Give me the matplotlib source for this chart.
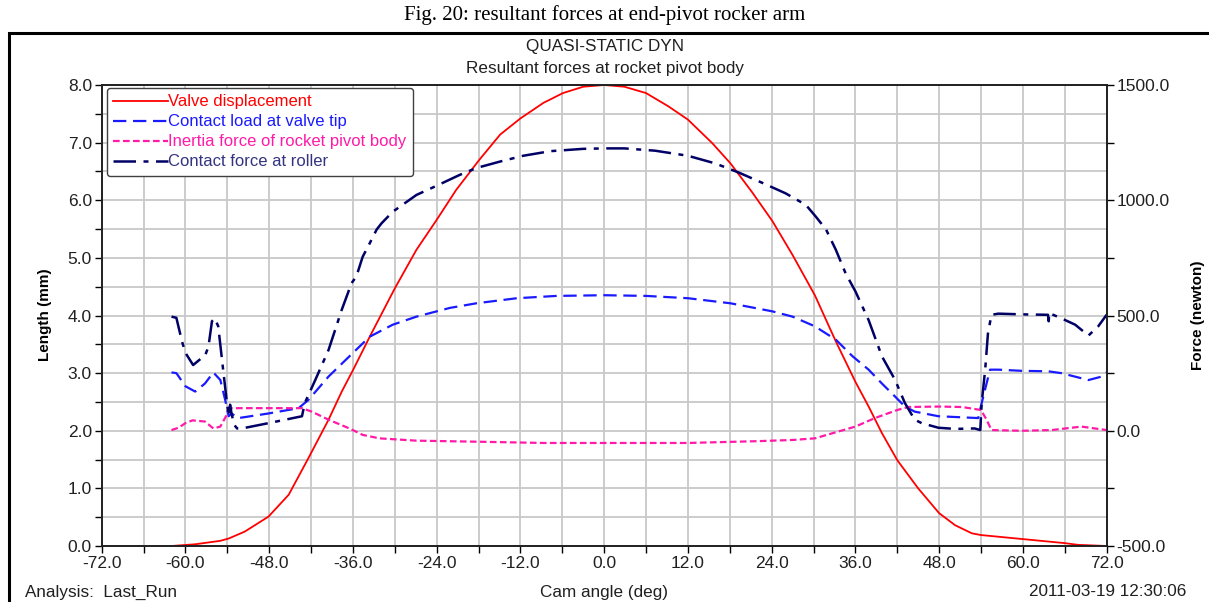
"""
Fig. 20: resultant forces at end-pivot rocker arm (quasi-static)
"""
import matplotlib
matplotlib.use("Agg")
import matplotlib.pyplot as plt
from matplotlib.patches import Rectangle
from matplotlib.ticker import MultipleLocator, FormatStrFormatter

plt.rcParams['font.family'] = ['Liberation Sans', 'DejaVu Sans']

# 气门升程 (mm)
valve_angle = [-62, -58.6, -55, -53.8, -51.5, -48.1, -45.2, -42.4, -39.5, -37.6, -36, -33.6,
               -30, -26.9, -24, -21.2, -17.9, -14.9, -12, -8.7, -5.9, -3, 0, 2.9, 6, 9.2, 12,
               15.5, 18.1, 21.2, 24.1, 27, 30.2, 33.2, 36, 37.9, 39.8, 42, 45, 48, 50.3, 52.7,
               54, 60, 66, 67.9, 72]
valve_mm = [0.0, 0.03, 0.09, 0.13, 0.25, 0.51, 0.89, 1.52, 2.19, 2.68, 3.05, 3.63,
            4.47, 5.14, 5.66, 6.18, 6.70, 7.14, 7.42, 7.69, 7.86, 7.97, 8.0, 7.97, 7.86, 7.63, 7.40,
            6.99, 6.64, 6.14, 5.64, 5.05, 4.35, 3.55, 2.85, 2.42, 1.96, 1.49, 1.00, 0.57, 0.36, 0.22,
            0.19, 0.12, 0.05, 0.02, 0.0]

# 滚子接触力 (N)
roller_angle = [-62, -61.3, -60.5, -60, -58.9, -57.7, -57.2, -56.7, -56.2, -55.8, -55.3, -54.6,
                -54.1, -53.8, -53.6, -53.4, -53.0, -52.6, -51.9, -48.1, -43.3, -42.9, -41.4,
                -39.5, -37.6, -36.2, -35.5, -34.6, -33.6, -32.6, -31.9, -30.3, -26.9, -24,
                -20.7, -18.3, -14.9, -11.6, -7.7, -3, 0, 2.9, 7.3, 12, 15.9, 19.3, 22.7, 26,
                28.9, 30.3, 31.8, 33.2, 34.6, 36, 37.9, 39.8, 41.7, 43.1, 44.5, 45.5, 47.9,
                50.3, 53.1, 53.9, 54.1, 54.6, 55, 55.5, 56.5, 59.8, 63.6, 63.7, 63.8, 65.5,
                67.5, 69.4, 70.8, 72]
roller_n = [495, 490, 388, 338, 285, 315, 325, 365, 475, 488, 453, 265,
            133, 63, 113, 75, 25, 10, 10, 33, 63, 120, 220,
            350, 525, 640, 670, 755, 813, 873, 900, 950, 1023, 1063,
            1110, 1140, 1168, 1193, 1213, 1223, 1225, 1225, 1215, 1193, 1160, 1120, 1075, 1030,
            980, 930, 873, 785, 683, 605, 480, 323, 220, 120, 48, 33, 13,
            8, 10, 3, 120, 265, 423, 503, 508, 505, 503, 475, 510, 488,
            460, 413, 453, 503]

# 气门尖端接触载荷 (N)
tip_angle = [-62, -61.3, -60, -58.6, -57.2, -56, -55, -54.3, -53.8, -53.4, -52.4, -48.1, -43.8,
             -42.4, -39.5, -36.5, -33.6, -30.3, -26.9, -22.1, -18.3, -12.5, -6.8, 0, 6, 12,
             18.1, 24.1, 27, 30.2, 33.2, 35.6, 37.9, 39.8, 41.7, 43.1, 44.5, 47.9, 53.6, 54.1,
             54.8, 55.3, 56.5, 59.8, 63.6, 65.5, 69.4, 71.3, 72]
tip_n = [253, 250, 193, 170, 205, 253, 220, 133, 63, 75, 55, 75, 98,
         133, 235, 323, 408, 460, 495, 533, 553, 575, 585, 588, 585, 575,
         553, 518, 495, 453, 395, 323, 265, 205, 148, 105, 83, 63, 55, 120,
         205, 265, 265, 260, 258, 250, 220, 235, 253]

# 摇臂惯性力 (N)
inertia_angle = [-62, -61, -60, -59, -57.2, -56, -55, -54.1, -53.4, -49.1, -43.3, -41.9, -39.5,
                 -36.5, -34.6, -32.2, -26.9, -17.3, -8.7, 0, 12, 22.2, 27, 30.2, 33.6, 36,
                 38.8, 42, 43.6, 47.9, 51.3, 54, 54.8, 55.5, 59.8, 64.1, 68.4, 72]
inertia_n = [3, 13, 33, 45, 40, 10, 18, 68, 98, 98, 98, 83, 48,
             10, -18, -33, -43, -48, -53, -53, -53, -45, -40, -33, -3, 18,
             55, 90, 103, 105, 103, 90, 48, 3, 0, 3, 18, 3]

x_ticks = [-72, -60, -48, -36, -24, -12, 0, 12, 24, 36, 48, 60, 72]

RED = '#ff0000'
BLUE = '#1a1aff'
PINK = '#ff1aa8'
NAVY = '#000066'
FS = 12.3


def main():
    fig = plt.figure(figsize=(12.09, 6.02), dpi=100)
    ax = fig.add_axes([101.7 / 1209, 1 - 546 / 602, (1106.6 - 101.7) / 1209, (546 - 85) / 602])
    ax2 = ax.twinx()

    # 网格
    ax.set_xlim(-72, 72)
    ax.set_ylim(0, 8)
    ax.set_xticks(x_ticks)
    ax.xaxis.set_minor_locator(MultipleLocator(6))
    ax.yaxis.set_major_locator(MultipleLocator(1))
    ax.yaxis.set_minor_locator(MultipleLocator(0.5))
    ax.xaxis.set_major_formatter(FormatStrFormatter('%.1f'))
    ax.yaxis.set_major_formatter(FormatStrFormatter('%.1f'))
    ax.grid(True, which='both', color='#c8c8c8', linewidth=1.3)
    ax.set_axisbelow(True)

    ax2.set_ylim(-500, 1500)
    ax2.yaxis.set_major_locator(MultipleLocator(500))
    ax2.yaxis.set_minor_locator(MultipleLocator(250))
    ax2.yaxis.set_major_formatter(FormatStrFormatter('%.1f'))

    for a in (ax, ax2):
        a.tick_params(which='both', direction='out', length=5, width=1, labelsize=12.5,
                      color='black', labelcolor='#202020', pad=2)
        for s in a.spines.values():
            s.set_color('#202020')
            s.set_linewidth(1.2)

    # 曲线
    l1, = ax.plot(valve_angle, valve_mm, color=RED, lw=1.3, label='Valve displacement')
    l2, = ax2.plot(tip_angle, tip_n, color=BLUE, lw=1.6, dashes=(6, 3),
                   label='Contact load at valve tip')
    l3, = ax2.plot(inertia_angle, inertia_n, color=PINK, lw=1.6, dashes=(3, 1.5),
                   label='Inertia force of rocket pivot body')
    l4, = ax2.plot(roller_angle, roller_n, color=NAVY, lw=1.8, dashes=(9, 3, 2, 3),
                   label='Contact force at roller')

    leg = ax2.legend(handles=[l1, l2, l3, l4], loc='upper left', bbox_to_anchor=(0.005, 0.994),
                     borderaxespad=0, fontsize=12, handlelength=3.3, handletextpad=0.0,
                     labelspacing=0.3, borderpad=0.4, frameon=True, fancybox=True,
                     edgecolor='#404040', framealpha=1)
    leg.get_frame().set_linewidth(1.0)
    for txt, c in zip(leg.get_texts(), [RED, BLUE, PINK, '#333380']):
        txt.set_color(c)

    # 文本
    fig.text(0.5, 1 - 15 / 602, 'Fig. 20: resultant forces at end-pivot rocker arm',
             family=['Liberation Serif', 'DejaVu Serif'], fontsize=15, ha='center', va='center')
    fig.text(0.5, 1 - 47 / 602, 'QUASI-STATIC DYN', fontsize=FS, ha='center', va='center',
             color='#202020')
    fig.text(0.5, 1 - 69 / 602, 'Resultant forces at rocket pivot body', fontsize=FS,
             ha='center', va='center', color='#202020')
    fig.text(45 / 1209, 1 - 315 / 602, 'Length (mm)', rotation=90, fontsize=11,
             fontweight='bold', ha='center', va='center')
    fig.text(1198 / 1209, 1 - 315 / 602, 'Force (newton)', rotation=90, fontsize=11,
             fontweight='bold', ha='center', va='center')
    fig.text(0.5, 1 - 592 / 602, 'Cam angle (deg)', fontsize=FS, ha='center', va='center',
             color='#202020')
    fig.text(25 / 1209, 1 - 592 / 602, 'Analysis:  Last_Run', fontsize=FS, ha='left',
             va='center', color='#202020')
    fig.text(1186 / 1209, 1 - 592 / 602, '2011-03-19 12:30:06', fontsize=FS, ha='right',
             va='center', color='#202020')

    # 外框
    fig.patches.append(Rectangle((9 / 1209, -0.05), 1.1, 1.05 - 33 / 602,
                                 transform=fig.transFigure, fill=False, lw=2.2,
                                 edgecolor='black', clip_on=False))

    fig.savefig('out.png', dpi=100)
    plt.close(fig)


if __name__ == "__main__":
    main()
